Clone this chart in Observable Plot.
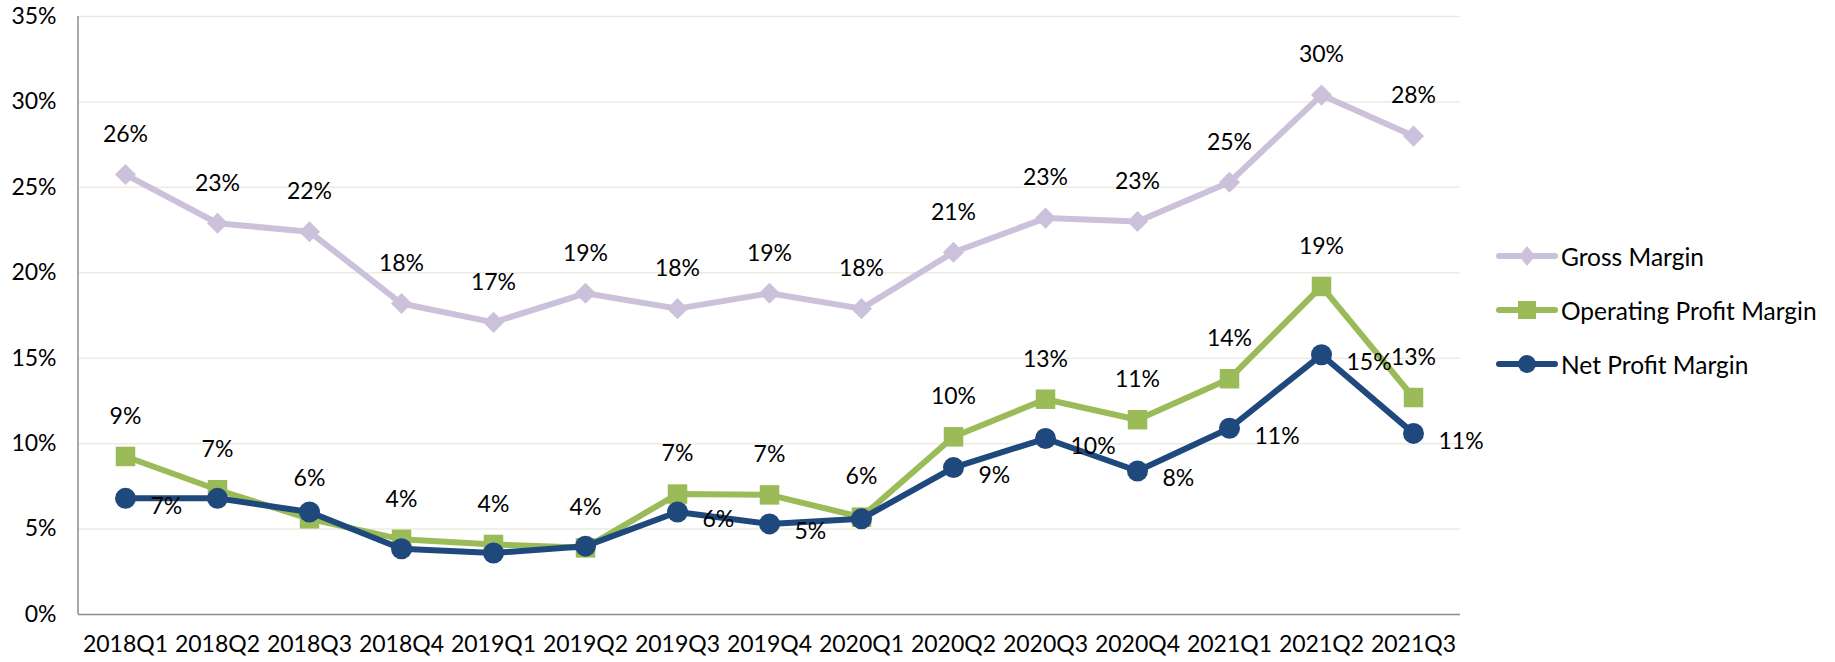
<!DOCTYPE html>
<html>
<head>
<meta charset="utf-8">
<script src="https://cdn.jsdelivr.net/npm/d3@7"></script>
<script src="https://cdn.jsdelivr.net/npm/@observablehq/plot@0.6"></script>
<style>
  html, body { margin: 0; padding: 0; background: #fff; }
  #wrap { position: relative; width: 1835px; height: 662px; font-family: Lato, "Noto Sans", sans-serif; }
  #legend { position: absolute; left: 1496px; top: 229px; font-size: 24.5px; color: #000; }
  .row { display: flex; align-items: center; height: 54px; }
  .row svg { display: block; margin-right: 3px; }
</style>
</head>
<body>
<div id="wrap"><div id="chart"></div><div id="legend"></div></div>
<script>
const quarters = ["2018Q1","2018Q2","2018Q3","2018Q4","2019Q1","2019Q2","2019Q3","2019Q4","2020Q1","2020Q2","2020Q3","2020Q4","2021Q1","2021Q2","2021Q3"];
const grossMargin = [25.75, 22.9, 22.4, 18.2, 17.1, 18.8, 17.9, 18.8, 17.9, 21.2, 23.2, 23.0, 25.3, 30.4, 28.0];
const operatingMargin = [9.25, 7.3, 5.6, 4.4, 4.1, 3.9, 7.05, 7.0, 5.7, 10.4, 12.6, 11.4, 13.8, 19.2, 12.7];
const netMargin = [6.8, 6.8, 6.0, 3.85, 3.6, 4.0, 6.0, 5.3, 5.6, 8.6, 10.3, 8.4, 10.9, 15.2, 10.6];
const netLabelShown = [true, false, false, false, false, false, true, true, false, true, true, true, true, true, true];
const yTicks = [0, 5, 10, 15, 20, 25, 30, 35];
const seriesNames = ["Gross Margin", "Operating Profit Margin", "Net Profit Margin"];
const seriesColors = ["#CCC1DA", "#9BBB59", "#1F497D"];

const rows = quarters.map((q, i) => ({
  quarter: q, gross: grossMargin[i], op: operatingMargin[i], net: netMargin[i], netShown: netLabelShown[i]
}));
const pct = v => Math.round(v) + "%";

const leftAxis = (index, scales, values, dims) => {
  const line = d3.create("svg:line")
    .attr("x1", dims.marginLeft).attr("x2", dims.marginLeft)
    .attr("y1", scales.y(35)).attr("y2", scales.y(0))
    .attr("stroke", "#8C8C8C").attr("stroke-width", 1.5);
  return line.node();
};

const chart = Plot.plot({
  width: 1835, height: 662,
  marginLeft: 78, marginRight: 375, marginTop: 16, marginBottom: 48,
  style: { fontFamily: "Lato, 'Noto Sans', sans-serif", fontSize: "23px", color: "#000", background: "#fff", overflow: "visible" },
  x: { type: "point", domain: quarters, padding: 0.5, label: null, tickSize: 0, tickPadding: 21 },
  y: { domain: [0, 35], ticks: yTicks, tickFormat: d => d + "%", label: null, tickSize: 0, tickPadding: 22 },
  marks: [
    Plot.ruleY(yTicks.filter(t => t > 0), { stroke: "#EDEBE0", strokeWidth: 1.5 }),
    Plot.ruleY([0], { stroke: "#8C8C8C", strokeWidth: 1.5 }),
    leftAxis,
    Plot.line(rows, { x: "quarter", y: "gross", stroke: seriesColors[0], strokeWidth: 6 }),
    Plot.dot(rows, { x: "quarter", y: "gross", symbol: "diamond2", r: 9.5, fill: seriesColors[0] }),
    Plot.line(rows, { x: "quarter", y: "op", stroke: seriesColors[1], strokeWidth: 6 }),
    Plot.dot(rows, { x: "quarter", y: "op", symbol: "square", r: 11, fill: seriesColors[1] }),
    Plot.line(rows, { x: "quarter", y: "net", stroke: seriesColors[2], strokeWidth: 6 }),
    Plot.dot(rows, { x: "quarter", y: "net", symbol: "circle", r: 10.5, fill: seriesColors[2] }),
    Plot.text(rows, { x: "quarter", y: "gross", text: d => pct(d.gross), dy: -40, fill: "#000" }),
    Plot.text(rows, { x: "quarter", y: "op", text: d => pct(d.op), dy: -40, fill: "#000" }),
    Plot.text(rows, { filter: d => d.netShown, x: "quarter", y: "net", text: d => pct(d.net), dx: 25, dy: 8, textAnchor: "start", fill: "#000" })
  ]
});
document.getElementById("chart").appendChild(chart);

// Legend
const symbols = ["diamond", "square", "circle"];
const legend = d3.select("#legend");
seriesNames.forEach((name, i) => {
  const row = legend.append("div").attr("class", "row");
  const svg = row.append("svg").attr("width", 62).attr("height", 28);
  svg.append("line").attr("x1", 3).attr("x2", 59).attr("y1", 14).attr("y2", 14)
    .attr("stroke", seriesColors[i]).attr("stroke-width", 6).attr("stroke-linecap", "round");
  if (symbols[i] === "diamond") {
    svg.append("path").attr("d", "M31,4 L39,14 L31,24 L23,14 Z").attr("fill", seriesColors[i]);
  } else if (symbols[i] === "square") {
    svg.append("rect").attr("x", 22).attr("y", 5).attr("width", 18).attr("height", 18).attr("fill", seriesColors[i]);
  } else {
    svg.append("circle").attr("cx", 31).attr("cy", 14).attr("r", 9).attr("fill", seriesColors[i]);
  }
  row.append("span").text(name);
});
</script>
</body>
</html>
